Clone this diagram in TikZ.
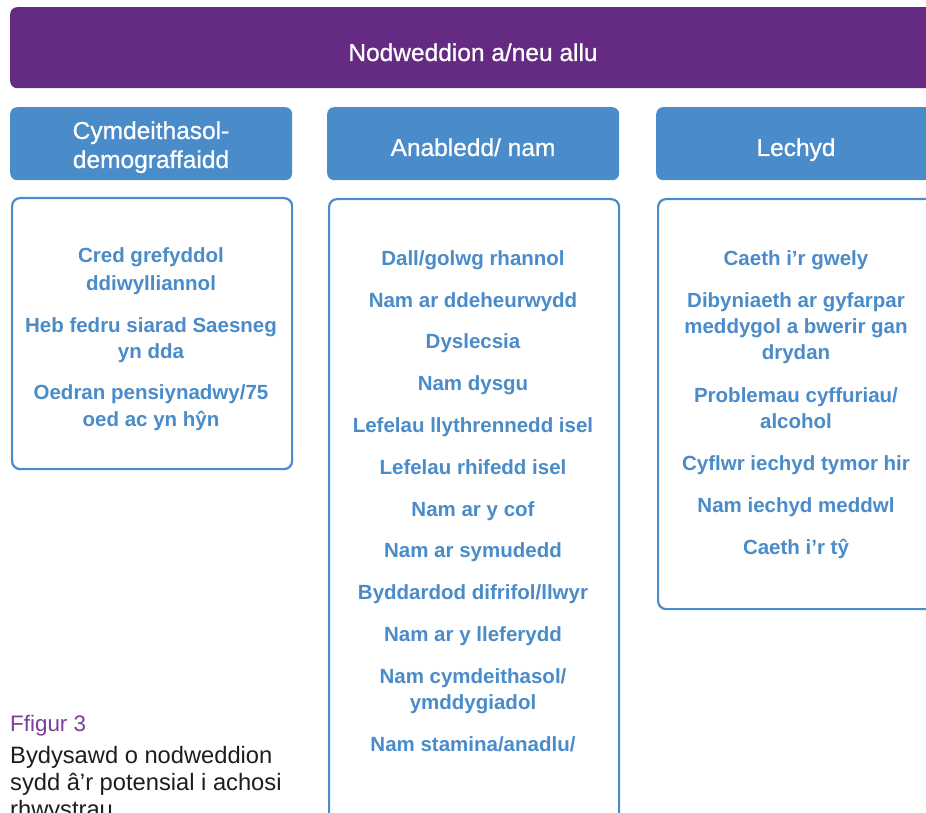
\documentclass[tikz,border=0pt]{standalone}
\usepackage{fontspec}
\setmainfont{Liberation Sans}
\newfontfamily\headfont[FakeBold=0.8]{Liberation Sans}
\definecolor{purpleC}{RGB}{101,43,131}
\definecolor{blueC}{RGB}{74,139,201}
\definecolor{figC}{RGB}{123,63,152}
\definecolor{capC}{RGB}{30,28,30}
\tikzset{
  barbox/.style={fill=purpleC, draw=none, rounded corners=7pt, inner sep=0pt, anchor=north west},
  headbox/.style={fill=blueC, draw=none, rounded corners=7pt, inner sep=0pt, anchor=north west},
  panelbox/.style={fill=white, draw=blueC, line width=2.2pt, rounded corners=8pt, inner sep=0pt, anchor=north west},
  htext/.style={text=white, font=\headfont\fontsize{24.5}{29}\selectfont, anchor=base, inner sep=0pt},
  itemtext/.style={text=blueC, font=\bfseries\fontsize{20.5}{27}\selectfont, anchor=base, inner sep=0pt},
  figtext/.style={text=figC, font=\fontsize{22.4}{27}\selectfont, anchor=base west, inner sep=0pt},
  captext/.style={text=capC, font=\fontsize{23.7}{27}\selectfont, anchor=base west, inner sep=0pt},
}
\begin{document}
\begin{tikzpicture}[x=1pt,y=-1pt]
\useasboundingbox (0,0) rectangle (926,813);
\clip (0,0) rectangle (926,813);
\fill[white] (0,0) rectangle (926,813);
% top bar
\node[barbox, minimum width=926pt, minimum height=81pt] (bar) at (10,7) {};
\node[htext] (bart) at (473,61) {Nodweddion a/neu allu};
% headers
\node[headbox, minimum width=282pt, minimum height=73pt] (h1) at (10,107) {};
\node[headbox, minimum width=292pt, minimum height=73pt] (h2) at (327,107) {};
\node[headbox, minimum width=290pt, minimum height=73pt] (h3) at (656,107) {};
\node[htext] (h1a) at (151,139) {Cymdeithasol-};
\node[htext] (h1b) at (151,168) {demograffaidd};
\node[htext] (h2a) at (473,156) {Anabledd/ nam};
\node[htext] (h3a) at (796,156) {Lechyd};
% panels
\node[panelbox, minimum width=280pt, minimum height=271pt] (p1) at (11,197) {};
\node[panelbox, minimum width=290pt, minimum height=700pt] (p2) at (328,198) {};
\node[panelbox, minimum width=290pt, minimum height=410pt] (p3) at (657,198) {};
% column 1
\node[itemtext] (a1) at (151,262) {Cred grefyddol};
\node[itemtext] (a2) at (151,290) {ddiwylliannol};
\node[itemtext] (a3) at (151,332) {Heb fedru siarad Saesneg};
\node[itemtext] (a4) at (151,358) {yn dda};
\node[itemtext] (a5) at (151,399) {Oedran pensiynadwy/75};
\node[itemtext] (a6) at (151,426) {oed ac yn hŷn};
% column 2
\node[itemtext] (b1) at (473,265) {Dall/golwg rhannol};
\node[itemtext] (b2) at (473,307) {Nam ar ddeheurwydd};
\node[itemtext] (b3) at (473,348) {Dyslecsia};
\node[itemtext] (b4) at (473,390) {Nam dysgu};
\node[itemtext] (b5) at (473,432) {Lefelau llythrennedd isel};
\node[itemtext] (b6) at (473,474) {Lefelau rhifedd isel};
\node[itemtext] (b7) at (473,516) {Nam ar y cof};
\node[itemtext] (b8) at (473,557) {Nam ar symudedd};
\node[itemtext] (b9) at (473,599) {Byddardod difrifol/llwyr};
\node[itemtext] (b10) at (473,641) {Nam ar y lleferydd};
\node[itemtext] (b11) at (473,683) {Nam cymdeithasol/};
\node[itemtext] (b12) at (473,709) {ymddygiadol};
\node[itemtext] (b13) at (473,751) {Nam stamina/anadlu/};
% column 3
\node[itemtext] (c1) at (796,265) {Caeth i’r gwely};
\node[itemtext] (c2) at (796,307) {Dibyniaeth ar gyfarpar};
\node[itemtext] (c3) at (796,333) {meddygol a bwerir gan};
\node[itemtext] (c4) at (796,359) {drydan};
\node[itemtext] (c5) at (796,402) {Problemau cyffuriau/};
\node[itemtext] (c6) at (796,428) {alcohol};
\node[itemtext] (c7) at (796,470) {Cyflwr iechyd tymor hir};
\node[itemtext] (c8) at (796,512) {Nam iechyd meddwl};
\node[itemtext] (c9) at (796,554) {Caeth i’r tŷ};
% caption
\node[figtext] (f1) at (10,731) {Ffigur 3};
\node[captext] (f2) at (10,763) {Bydysawd o nodweddion};
\node[captext] (f3) at (10,790) {sydd â’r potensial i achosi};
\node[captext] (f4) at (10,817) {rhwystrau};
\end{tikzpicture}
\end{document}
